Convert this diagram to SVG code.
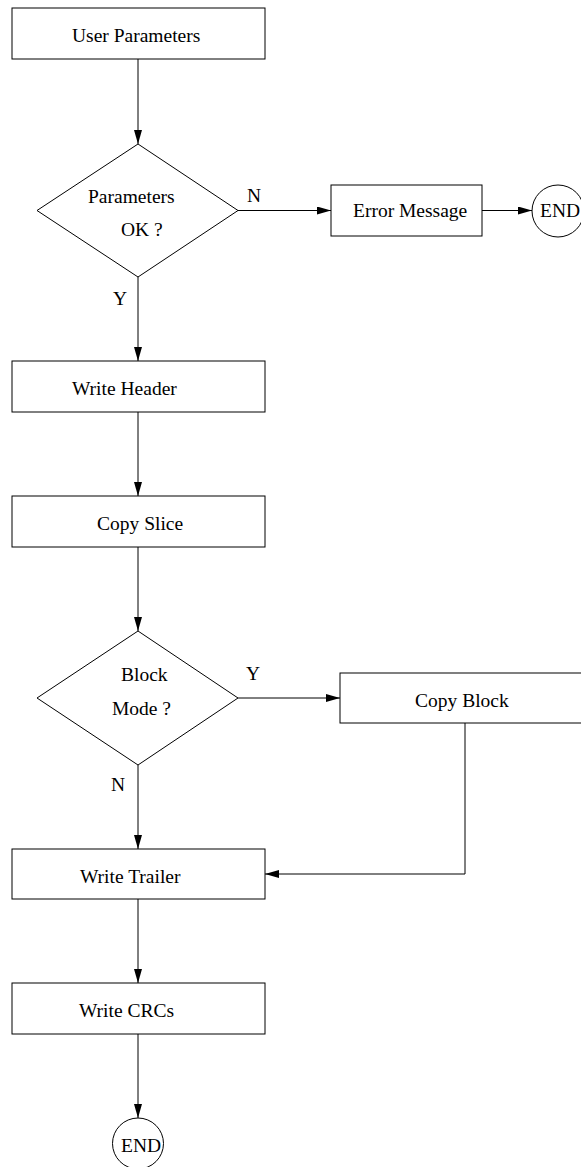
<svg xmlns="http://www.w3.org/2000/svg" width="581" height="1167" viewBox="0 0 581 1167">
<style>
.box{fill:#fff;stroke:#000;stroke-width:1}
.ln{fill:none;stroke:#000;stroke-width:1;marker-end:url(#ah)}
text{font-family:"Liberation Serif","Times New Roman",serif;font-size:19.5px;fill:#000}
</style>
<defs>
<marker id="ah" viewBox="0 0 14 8" refX="14" refY="4" markerWidth="14" markerHeight="8" markerUnits="userSpaceOnUse" orient="auto">
<path d="M0,0 L14,4 L0,8 Z" fill="#000"/>
</marker>
</defs>
<rect width="581" height="1167" fill="#fff"/>
<g id="connectors">
<line class="ln" x1="138" y1="59" x2="138" y2="144"/>
<line class="ln" x1="238" y1="210.5" x2="331" y2="210.5"/>
<line class="ln" x1="482" y1="210.5" x2="532" y2="210.5"/>
<line class="ln" x1="138" y1="277" x2="138" y2="361"/>
<line class="ln" x1="138" y1="412" x2="138" y2="496"/>
<line class="ln" x1="138" y1="547" x2="138" y2="631"/>
<line class="ln" x1="238" y1="698" x2="340" y2="698"/>
<line class="ln" x1="138" y1="765" x2="138" y2="849"/>
<polyline class="ln" points="465,723 465,874 265,874"/>
<line class="ln" x1="138" y1="899" x2="138" y2="983"/>
<line class="ln" x1="138" y1="1034" x2="138" y2="1118"/>
<text x="247" y="202">N</text>
<text x="113" y="305">Y</text>
<text x="246" y="680">Y</text>
<text x="111" y="791">N</text>
</g>
<g id="user-parameters">
<rect class="box" x="12" y="8" width="253" height="51"/>
<text x="72" y="42">User Parameters</text>
</g>
<g id="parameters-ok">
<polygon class="box" points="138,144 238,210.5 138,277 37,210.5"/>
<text x="88" y="203">Parameters</text>
<text x="121" y="236">OK ?</text>
</g>
<g id="error-message">
<rect class="box" x="331" y="185" width="151" height="51"/>
<text x="353" y="217">Error Message</text>
</g>
<g id="end-error">
<circle class="box" cx="558" cy="211" r="26"/>
<text x="540" y="217">END</text>
</g>
<g id="write-header">
<rect class="box" x="12" y="361" width="253" height="51"/>
<text x="72" y="395">Write Header</text>
</g>
<g id="copy-slice">
<rect class="box" x="12" y="496" width="253" height="51"/>
<text x="97" y="530">Copy Slice</text>
</g>
<g id="block-mode">
<polygon class="box" points="138,631 238,698 138,765 37,698"/>
<text x="121" y="681">Block</text>
<text x="112" y="715">Mode ?</text>
</g>
<g id="copy-block">
<rect class="box" x="340" y="673" width="260" height="50"/>
<text x="415" y="707">Copy Block</text>
</g>
<g id="write-trailer">
<rect class="box" x="12" y="849" width="253" height="50"/>
<text x="80" y="883">Write Trailer</text>
</g>
<g id="write-crcs">
<rect class="box" x="12" y="983" width="253" height="51"/>
<text x="79" y="1017">Write CRCs</text>
</g>
<g id="end-final">
<circle class="box" cx="138" cy="1143.5" r="25.5"/>
<text x="121" y="1152">END</text>
</g>
</svg>
